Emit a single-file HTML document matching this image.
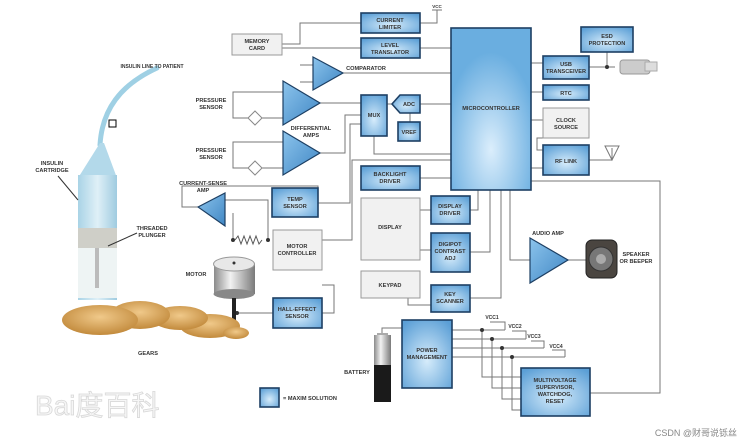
<!DOCTYPE html>
<html><head><meta charset="utf-8"><style>
html,body{margin:0;padding:0;background:#fff;}
svg{display:block;}
text{font-family:"Liberation Sans",sans-serif;font-weight:bold;font-size:5.6px;fill:#333;text-anchor:middle;}
.b{fill:url(#bg);stroke:#1d3f63;stroke-width:1.6;}
.g{fill:#f1f1f1;stroke:#999;stroke-width:1;}
.t{fill:url(#tg);stroke:#1d3f63;stroke-width:1.2;}
.l{fill:none;stroke:#777;stroke-width:1;}
</style></head><body>
<svg width="756" height="442" viewBox="0 0 756 442" xmlns="http://www.w3.org/2000/svg">
<defs>
<radialGradient id="bg" cx="0.5" cy="0.6" r="0.7"><stop offset="0" stop-color="#d6ecfb"/><stop offset="1" stop-color="#5b9fd6"/></radialGradient>
<radialGradient id="mg" cx="0.5" cy="0.75" r="0.6"><stop offset="0" stop-color="#dbeefc"/><stop offset="1" stop-color="#6aaee0"/></radialGradient>
<linearGradient id="tg" x1="0" y1="0" x2="1" y2="1"><stop offset="0" stop-color="#8cc4ec"/><stop offset="1" stop-color="#3f86c4"/></linearGradient>
<linearGradient id="cyl" x1="0" x2="1"><stop offset="0" stop-color="#8b8b8b"/><stop offset="0.4" stop-color="#f2f2f2"/><stop offset="1" stop-color="#7a7a7a"/></linearGradient>
<linearGradient id="syr" x1="0" x2="1"><stop offset="0" stop-color="#a9d3e6"/><stop offset="0.5" stop-color="#dff0f7"/><stop offset="1" stop-color="#9fcbe0"/></linearGradient>
<radialGradient id="gear" cx="0.5" cy="0.4" r="0.6"><stop offset="0" stop-color="#f0c98a"/><stop offset="1" stop-color="#c28a3c"/></radialGradient>
</defs>

<g class="l">
<path d="M282,44 H300 V23 H361"/><path d="M282,48 H361"/><path d="M420,48 H451"/>
<path d="M420,23 H437 V10"/><path d="M432,10 H442"/>
<path d="M300,65 H313"/><path d="M300,82 H313"/><path d="M343,73 H451"/>
<path d="M320,103 H361"/><path d="M320,153 H345 V115 H361"/>
<path d="M283,92 H233 V118 H283"/><path d="M283,142 H233 V168 H283"/>
<path d="M318,203 H350 V124 H361"/>
<path d="M387,104 H392"/><path d="M410,113 V122"/><path d="M420,104 H451"/>
<path d="M374,136 V154 H451"/>
<path d="M420,178 H451"/>
<path d="M322,240 H352 V160 H451"/>
<path d="M420,210 H431"/><path d="M420,250 H431"/>
<path d="M470,210 H478 V190"/><path d="M470,252 H490 V190"/><path d="M470,298 H501 V190"/>
<path d="M408,298 V305 H431"/>
<path d="M510,190 V260 H530"/><path d="M568,260 H586"/>
<path d="M531,181 H660 V393 H590"/>
<path d="M531,63 H543"/><path d="M531,92 H543"/><path d="M531,120 H543"/><path d="M531,168 H543"/>
<path d="M589,67 H615"/><path d="M607,52 V67"/>
<path d="M545,138 H537 V150 H543"/>
<path d="M589,160 H612 V148"/><path d="M605,146 L612,160 L619,146 Z"/>
<path d="M198,207 H182 V186 H318 V203"/>
<path d="M225,200 H268 V240"/><path d="M233,213 V240"/>
<path d="M322,285 H334 V313 H322"/><path d="M273,313 H237"/>
<path d="M452,330 H505"/><path d="M452,339 H526"/><path d="M452,348 H544"/><path d="M452,357 H565"/>
<path d="M505,330 V322 H490"/><path d="M526,339 V331 H512"/><path d="M544,348 V341 H531"/><path d="M565,357 V350 H552"/>
<path d="M482,330 V377 H521"/><path d="M492,339 V388 H521"/><path d="M502,348 V399 H521"/><path d="M512,357 V410 H521"/>
<path d="M382,335 V328 H402"/>
</g>
<g fill="#333"><circle cx="482" cy="330" r="2"/><circle cx="492" cy="339" r="2"/><circle cx="502" cy="348" r="2"/><circle cx="512" cy="357" r="2"/><circle cx="607" cy="67" r="2"/><circle cx="233" cy="240" r="2"/><circle cx="268" cy="240" r="2"/><circle cx="237" cy="313" r="2"/></g>
<path d="M235,240 l3,-4 l3,8 l3,-8 l3,8 l3,-8 l3,8 l3,-8 l3,8 l3,-4" fill="none" stroke="#555"/>
<g fill="#fff" stroke="#888"><path d="M255,111 l7,7 l-7,7 l-7,-7z"/><path d="M255,161 l7,7 l-7,7 l-7,-7z"/></g>

<rect class="b" x="361" y="13" width="59" height="20"/><text x="390" y="22">CURRENT</text><text x="390" y="29">LIMITER</text>
<rect class="b" x="361" y="38" width="59" height="20"/><text x="390" y="47">LEVEL</text><text x="390" y="54">TRANSLATOR</text>
<rect class="g" x="232" y="34" width="50" height="21"/><text x="257" y="43">MEMORY</text><text x="257" y="50">CARD</text>
<text x="437" y="8" style="font-size:4.5px">VCC</text>
<polygon class="t" points="313,57 343,73 313,90"/><text x="366" y="70">COMPARATOR</text>
<polygon class="t" points="283,81 320,103 283,125"/><polygon class="t" points="283,131 320,153 283,175"/>
<text x="311" y="130">DIFFERENTIAL</text><text x="311" y="137">AMPS</text>
<text x="211" y="102">PRESSURE</text><text x="211" y="109">SENSOR</text>
<text x="211" y="152">PRESSURE</text><text x="211" y="159">SENSOR</text>
<rect class="b" x="361" y="95" width="26" height="41"/><text x="374" y="117">MUX</text>
<polygon class="b" points="392,104 400,95 420,95 420,113 400,113"/><text x="409" y="106">ADC</text>
<rect class="b" x="398" y="122" width="22" height="19"/><text x="409" y="134">VREF</text>
<rect x="451" y="28" width="80" height="162" fill="url(#mg)" stroke="#1d3f63" stroke-width="1.6"/><text x="491" y="110">MICROCONTROLLER</text>
<rect class="b" x="581" y="27" width="52" height="25"/><text x="607" y="38">ESD</text><text x="607" y="45">PROTECTION</text>
<rect class="b" x="543" y="56" width="46" height="23"/><text x="566" y="66">USB</text><text x="566" y="73">TRANSCEIVER</text>
<rect class="b" x="543" y="85" width="46" height="15"/><text x="566" y="95">RTC</text>
<rect class="g" x="543" y="108" width="46" height="30"/><text x="566" y="122">CLOCK</text><text x="566" y="129">SOURCE</text>
<rect class="b" x="543" y="145" width="46" height="30"/><text x="566" y="163">RF LINK</text>
<g><rect x="620" y="60" width="30" height="14" rx="3" fill="#ccc" stroke="#999"/><rect x="645" y="62" width="12" height="9" fill="#ddd" stroke="#aaa"/></g>
<rect class="b" x="361" y="166" width="59" height="24"/><text x="390" y="176">BACKLIGHT</text><text x="390" y="183">DRIVER</text>
<rect class="b" x="272" y="188" width="46" height="29"/><text x="295" y="201">TEMP</text><text x="295" y="208">SENSOR</text>
<polygon class="t" points="198,207 225,193 225,226"/><text x="203" y="185">CURRENT-SENSE</text><text x="203" y="192">AMP</text>
<rect class="g" x="361" y="198" width="59" height="62"/><text x="390" y="229">DISPLAY</text>
<rect class="b" x="431" y="196" width="39" height="28"/><text x="450" y="208">DISPLAY</text><text x="450" y="215">DRIVER</text>
<rect class="b" x="431" y="233" width="39" height="39"/><text x="450" y="246">DIGIPOT</text><text x="450" y="253">CONTRAST</text><text x="450" y="260">ADJ</text>
<rect class="g" x="361" y="271" width="59" height="27"/><text x="390" y="287">KEYPAD</text>
<rect class="b" x="431" y="285" width="39" height="27"/><text x="450" y="296">KEY</text><text x="450" y="303">SCANNER</text>
<rect class="g" x="273" y="230" width="49" height="40"/><text x="297" y="248">MOTOR</text><text x="297" y="255">CONTROLLER</text>
<rect class="b" x="273" y="298" width="49" height="30"/><text x="297" y="311">HALL-EFFECT</text><text x="297" y="318">SENSOR</text>
<polygon class="t" points="530,238 568,260 530,283"/><text x="548" y="235">AUDIO AMP</text>
<rect x="586" y="240" width="31" height="38" rx="6" fill="#4a4540" stroke="#222"/><circle cx="601" cy="259" r="12" fill="#777" stroke="#333"/><circle cx="601" cy="259" r="5" fill="#aaa"/>
<text x="636" y="256">SPEAKER</text><text x="636" y="263">OR BEEPER</text>
<rect class="b" x="402" y="320" width="50" height="68"/><text x="427" y="352">POWER</text><text x="427" y="359">MANAGEMENT</text>
<text x="492" y="319" style="font-size:5px">VCC1</text><text x="515" y="328" style="font-size:5px">VCC2</text><text x="534" y="338" style="font-size:5px">VCC3</text><text x="556" y="348" style="font-size:5px">VCC4</text>
<rect class="b" x="521" y="368" width="69" height="48"/><text x="555" y="382">MULTIVOLTAGE</text><text x="555" y="389">SUPERVISOR,</text><text x="555" y="396">WATCHDOG,</text><text x="555" y="403">RESET</text>
<rect x="377" y="333" width="11" height="3" fill="#aaa"/><rect x="374" y="335" width="17" height="30" fill="url(#cyl)"/><rect x="374" y="365" width="17" height="37" fill="#1a1a1a"/>
<text x="357" y="374">BATTERY</text>
<rect class="b" x="260" y="388" width="19" height="19"/><text x="310" y="400">= MAXIM SOLUTION</text>

<rect x="214" y="264" width="41" height="30" fill="url(#cyl)"/><ellipse cx="234" cy="294" rx="20.5" ry="5" fill="#888"/><ellipse cx="234" cy="264" rx="20.5" ry="7" fill="#e8e8e8" stroke="#999"/><circle cx="234" cy="263" r="1.5" fill="#333"/>
<rect x="232" y="298" width="4" height="36" fill="#222"/>
<text x="196" y="276">MOTOR</text>

<path d="M100,145 C102,110 120,85 157,68" fill="none" stroke="#9fd0e4" stroke-width="5" stroke-linecap="round"/>
<polygon points="100,143 78,178 117,178 104,143" fill="#b3d9ea"/>
<rect x="78" y="175" width="39" height="125" fill="url(#syr)"/>
<rect x="78" y="228" width="39" height="20" fill="#cfcfc8"/>
<rect x="78" y="248" width="39" height="50" fill="#eef4f4"/>
<rect x="95" y="248" width="4" height="40" fill="#bbb"/>
<rect x="109" y="120" width="7" height="7" fill="#fff" stroke="#000"/>
<text x="152" y="68" style="font-size:5px">INSULIN LINE TO PATIENT</text>
<text x="52" y="165">INSULIN</text><text x="52" y="172">CARTRIDGE</text>
<path d="M58,176 L78,200" stroke="#333" fill="none"/>
<text x="152" y="230">THREADED</text><text x="152" y="237">PLUNGER</text>
<path d="M137,233 L108,246" stroke="#333" fill="none"/>
<ellipse cx="210" cy="326" rx="30" ry="12" fill="url(#gear)"/>
<ellipse cx="180" cy="318" rx="28" ry="12" fill="url(#gear)"/>
<ellipse cx="140" cy="315" rx="30" ry="14" fill="url(#gear)"/>
<ellipse cx="100" cy="320" rx="38" ry="15" fill="url(#gear)"/>
<ellipse cx="236" cy="333" rx="13" ry="6" fill="url(#gear)"/>
<text x="148" y="355">GEARS</text>
<text x="35" y="415" style="font-size:28px;fill:#f6f6f6;font-weight:normal;stroke:#d8d8d8;stroke-width:0.8;text-anchor:start;font-family:'Liberation Sans','Noto Sans CJK SC',sans-serif">Bai度百科</text>
<text x="696" y="436" style="font-size:9px;fill:#888;font-weight:normal;font-family:'Liberation Sans','Noto Sans CJK SC',sans-serif">CSDN @财哥说铄丝</text>
</svg>
</body></html>
